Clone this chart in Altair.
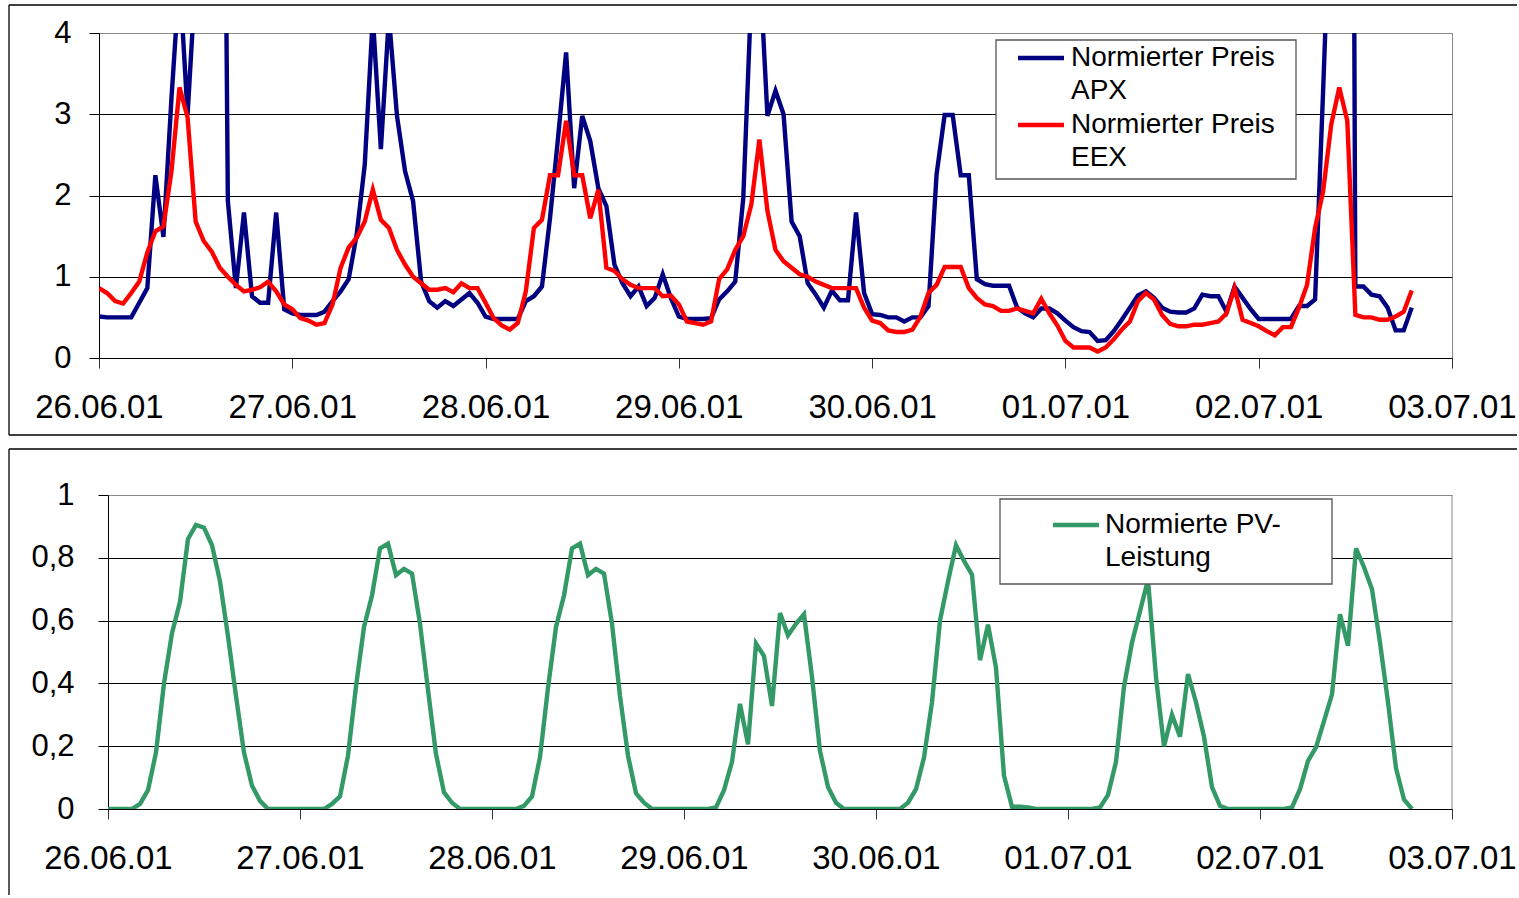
import json
import pandas as pd
import altair as alt

FONT = "Liberation Sans"

# ---------------- data (hourly, starting 26.06.01 00:00) ----------------
apx = [
    0.51, 0.50, 0.50, 0.50, 0.50, 0.68, 0.86, 2.25, 1.49, 3.20, 4.70, 3.00,
    4.70, 7.00, 10.0, 14.0, 1.93, 0.86, 1.79, 0.76, 0.68, 0.68, 1.79, 0.60,
    0.55, 0.53, 0.53, 0.53, 0.57, 0.70, 0.82, 0.97, 1.52, 2.38, 4.20, 2.57,
    4.20, 2.98, 2.30, 1.93, 0.94, 0.70, 0.62, 0.70, 0.64, 0.72, 0.80, 0.68,
    0.51, 0.48, 0.48, 0.48, 0.48, 0.70, 0.76, 0.88, 1.72, 2.71, 3.76, 2.09,
    2.98, 2.67, 2.09, 1.87, 1.15, 0.92, 0.76, 0.88, 0.64, 0.74, 1.03, 0.74,
    0.51, 0.48, 0.48, 0.48, 0.49, 0.72, 0.82, 0.94, 1.97, 4.50, 4.90, 2.98,
    3.29, 3.00, 1.68, 1.50, 0.92, 0.78, 0.62, 0.83, 0.71, 0.71, 1.79, 0.80,
    0.54, 0.53, 0.50, 0.50, 0.45, 0.50, 0.50, 0.64, 2.26, 2.99, 2.99, 2.25,
    2.25, 0.97, 0.91, 0.89, 0.89, 0.89, 0.62, 0.55, 0.50, 0.61, 0.61, 0.55,
    0.46, 0.38, 0.33, 0.32, 0.21, 0.22, 0.33, 0.47, 0.62, 0.77, 0.82, 0.74,
    0.62, 0.57, 0.56, 0.56, 0.61, 0.78, 0.76, 0.76, 0.57, 0.88, 0.74, 0.60,
    0.48, 0.48, 0.48, 0.48, 0.48, 0.64, 0.64, 0.72, 3.30, 6.00, 10.0, 25.0,
    0.88, 0.88, 0.78, 0.76, 0.62, 0.34, 0.34, 0.62,
]
eex = [
    0.86, 0.80, 0.70, 0.67, 0.80, 0.94, 1.30, 1.56, 1.62, 2.30, 3.33, 2.96,
    1.68, 1.44, 1.31, 1.11, 1.00, 0.90, 0.82, 0.84, 0.87, 0.94, 0.82, 0.66,
    0.60, 0.49, 0.46, 0.41, 0.43, 0.66, 1.11, 1.36, 1.48, 1.68, 2.07, 1.70,
    1.60, 1.33, 1.15, 1.00, 0.92, 0.84, 0.84, 0.86, 0.81, 0.92, 0.86, 0.86,
    0.68, 0.49, 0.40, 0.35, 0.43, 0.82, 1.60, 1.70, 2.25, 2.25, 2.92, 2.25,
    2.25, 1.72, 2.07, 1.11, 1.07, 0.97, 0.90, 0.86, 0.86, 0.86, 0.76, 0.77,
    0.66, 0.45, 0.43, 0.41, 0.45, 0.97, 1.09, 1.33, 1.50, 1.89, 2.69, 1.81,
    1.33, 1.19, 1.11, 1.03, 1.00, 0.94, 0.90, 0.86, 0.86, 0.86, 0.86, 0.62,
    0.46, 0.43, 0.34, 0.32, 0.32, 0.35, 0.51, 0.80, 0.90, 1.12, 1.12, 1.12,
    0.86, 0.74, 0.66, 0.64, 0.58, 0.58, 0.61, 0.58, 0.55, 0.73, 0.55, 0.40,
    0.21, 0.13, 0.13, 0.13, 0.08, 0.13, 0.23, 0.35, 0.45, 0.70, 0.80, 0.72,
    0.53, 0.42, 0.39, 0.39, 0.41, 0.41, 0.43, 0.45, 0.55, 0.86, 0.47, 0.43,
    0.39, 0.33, 0.28, 0.38, 0.38, 0.62, 0.90, 1.60, 2.05, 2.87, 3.33, 2.92,
    0.53, 0.50, 0.50, 0.47, 0.47, 0.51, 0.57, 0.83,
]
pv = [
    0, 0, 0, 0, 0.016, 0.06, 0.18, 0.40, 0.56, 0.66, 0.86, 0.905,
    0.896, 0.84, 0.725, 0.55, 0.36, 0.18, 0.074, 0.026, 0, 0, 0, 0,
    0, 0, 0, 0, 0.016, 0.04, 0.17, 0.39, 0.58, 0.68, 0.83, 0.845,
    0.745, 0.765, 0.75, 0.59, 0.38, 0.175, 0.053, 0.02, 0, 0, 0, 0,
    0, 0, 0, 0, 0.01, 0.04, 0.165, 0.386, 0.58, 0.68, 0.83, 0.845,
    0.745, 0.765, 0.75, 0.59, 0.36, 0.17, 0.05, 0.02, 0, 0, 0, 0,
    0, 0, 0, 0, 0.005, 0.06, 0.15, 0.335, 0.206, 0.527, 0.487, 0.328,
    0.624, 0.553, 0.59, 0.62, 0.42, 0.185, 0.07, 0.02, 0, 0, 0, 0,
    0, 0, 0, 0, 0.02, 0.063, 0.164, 0.34, 0.60, 0.725, 0.84, 0.79,
    0.746, 0.474, 0.587, 0.45, 0.106, 0.007, 0.007, 0.005, 0, 0, 0, 0,
    0, 0, 0, 0, 0.005, 0.045, 0.15, 0.39, 0.53, 0.63, 0.73, 0.42,
    0.20, 0.30, 0.23, 0.43, 0.34, 0.23, 0.07, 0.01, 0, 0, 0, 0,
    0, 0, 0, 0, 0.005, 0.063, 0.153, 0.196, 0.28, 0.365, 0.62, 0.52,
    0.83, 0.77, 0.70, 0.53, 0.34, 0.13, 0.03, 0,
]
hours = list(range(len(apx)))

day_labels = ["26.06.01", "27.06.01", "28.06.01", "29.06.01",
              "30.06.01", "01.07.01", "02.07.01", "03.07.01"]
day_ticks = [24 * i for i in range(len(day_labels))]
x_end = day_ticks[-1]
price_ticks = [0, 1, 2, 3, 4]
pv_ticks = [0, 0.2, 0.4, 0.6, 0.8, 1]

price_series = ["APX", "EEX"]
price_colors = ["#000080", "#FF0000"]
pv_color = "#339966"

legend_top = [["Normierter Preis", "APX"], ["Normierter Preis", "EEX"]]
legend_bottom = ["Normierte PV-", "Leistung"]

# ---------------- tables ----------------
df_price = pd.DataFrame({
    "h": hours * 2,
    "v": apx + eex,
    "s": ["APX"] * len(apx) + ["EEX"] * len(eex),
})
df_pv = pd.DataFrame({"h": hours, "v": pv})
df_end = pd.DataFrame({"h": [x_end]})
one = pd.DataFrame({"a": [0]})

label_expr = json.dumps(day_labels) + "[round(datum.value / 24)]"

W = 1353          # common plot width
SHIFT = 9         # bottom plot starts 9 px further right
LW = 4.4          # data line width


def x_enc(pad, rng=None):
    sc = dict(domain=[0, x_end], nice=False, zero=False)
    if rng is not None:
        sc["range"] = rng
    return alt.X(
        "h:Q",
        scale=alt.Scale(**sc),
        axis=alt.Axis(values=day_ticks, labelExpr=label_expr, title=None,
                      grid=False, labelFlush=False, labelOverlap=False,
                      labelPadding=pad, tickSize=10, tickColor="#333333",
                      domainColor="#000000", labelFontSize=33,
                      labelColor="#000000", labelFont=FONT),
    )


def grid_color(top):
    return {"condition": {"test": f"datum.value == {top}", "value": "#888888"},
            "value": "#000000"}


def rule(x, y, x2=None, y2=None, color="#000000", w=1.3):
    enc = {"x": alt.value(x), "y": alt.value(y)}
    if x2 is not None:
        enc["x2"] = alt.value(x2)
    if y2 is not None:
        enc["y2"] = alt.value(y2)
    return alt.Chart(one).mark_rule(color=color, strokeWidth=w).encode(**enc)


def text(t, x, y, size=28):
    return alt.Chart(one).mark_text(
        text=t, align="left", baseline="middle", fontSize=size, font=FONT,
        color="#000000").encode(x=alt.value(x), y=alt.value(y))


# ---------------- top panel ----------------
H1 = 325
price_lines = alt.Chart(df_price).mark_line(clip=True, strokeWidth=LW).encode(
    x=x_enc(23),
    y=alt.Y("v:Q", scale=alt.Scale(domain=[0, 4], nice=False),
            axis=alt.Axis(values=price_ticks, title=None, grid=True,
                          gridColor=grid_color(4), gridWidth=1,
                          tickSize=10, tickColor="#000000",
                          domainColor="#000000", labelFontSize=31,
                          labelPadding=18, labelFlush=False,
                          labelColor="#000000", labelFont=FONT)),
    color=alt.Color("s:N", scale=alt.Scale(domain=price_series,
                                           range=price_colors), legend=None),
    order=alt.Order("h:Q"),
)

leg1_box = alt.Chart(one).mark_rect(fill="white", stroke="#555555",
                                    strokeWidth=1.3).encode(
    x=alt.value(897), x2=alt.value(1197), y=alt.value(7), y2=alt.value(146))

top_layers = [
    rule(-90, -28, x2=1418),
    rule(-90, -28, y2=402),
    rule(-90, 402, x2=1418),
    price_lines,
    leg1_box,
    rule(919, 25, x2=965, color=price_colors[0], w=LW),
    rule(919, 92, x2=965, color=price_colors[1], w=LW),
    text(legend_top[0][0], 972, 25),
    text(legend_top[0][1], 972, 58),
    text(legend_top[1][0], 972, 92),
    text(legend_top[1][1], 972, 125),
]
top = alt.layer(*top_layers).properties(width=W, height=H1)

# ---------------- bottom panel ----------------
H2 = 314
pv_line = alt.Chart(df_pv).mark_line(clip=True, strokeWidth=LW,
                                     color=pv_color).encode(
    x=x_enc(23, rng=[SHIFT, W]),
    y=alt.Y("v:Q", scale=alt.Scale(domain=[0, 1], nice=False),
            axis=alt.Axis(values=pv_ticks, title=None, grid=True,
                          gridColor=grid_color(1), gridWidth=1,
                          tickSize=10, tickColor="#000000",
                          domainColor="#000000", labelFontSize=31,
                          labelPadding=24, labelFlush=False, offset=-SHIFT,
                          labelColor="#000000", labelFont=FONT,
                          labelExpr="replace(format(datum.value, '~g'), '.', ',')")),
)

right_border = alt.Chart(df_end).mark_rule(color="#888888", strokeWidth=1).encode(
    x="h:Q", y=alt.value(0), y2=alt.value(H2))

leg2_box = alt.Chart(one).mark_rect(fill="white", stroke="#555555",
                                    strokeWidth=1.3).encode(
    x=alt.value(892 + SHIFT), x2=alt.value(1224 + SHIFT),
    y=alt.value(4), y2=alt.value(89))

bottom_layers = [
    rule(-90, -46, x2=1418),
    rule(-90, -46, y2=400),
    right_border,
    pv_line,
    leg2_box,
    rule(945 + SHIFT, 30, x2=991 + SHIFT, color=pv_color, w=LW),
    text(legend_bottom[0], 997 + SHIFT, 30),
    text(legend_bottom[1], 997 + SHIFT, 63),
]
bottom = alt.layer(*bottom_layers).properties(
    width=W, height=H2, view=alt.ViewBackground(stroke="transparent"))

chart = alt.concat(top, bottom, columns=1, spacing=10).properties(
    bounds="full",
    padding={"left": 7, "top": 3, "right": 0, "bottom": 2},
).configure(font=FONT).configure_view(stroke="#888888", strokeWidth=1)

chart.save("out.html", embed_options={"renderer": "svg", "actions": False})
